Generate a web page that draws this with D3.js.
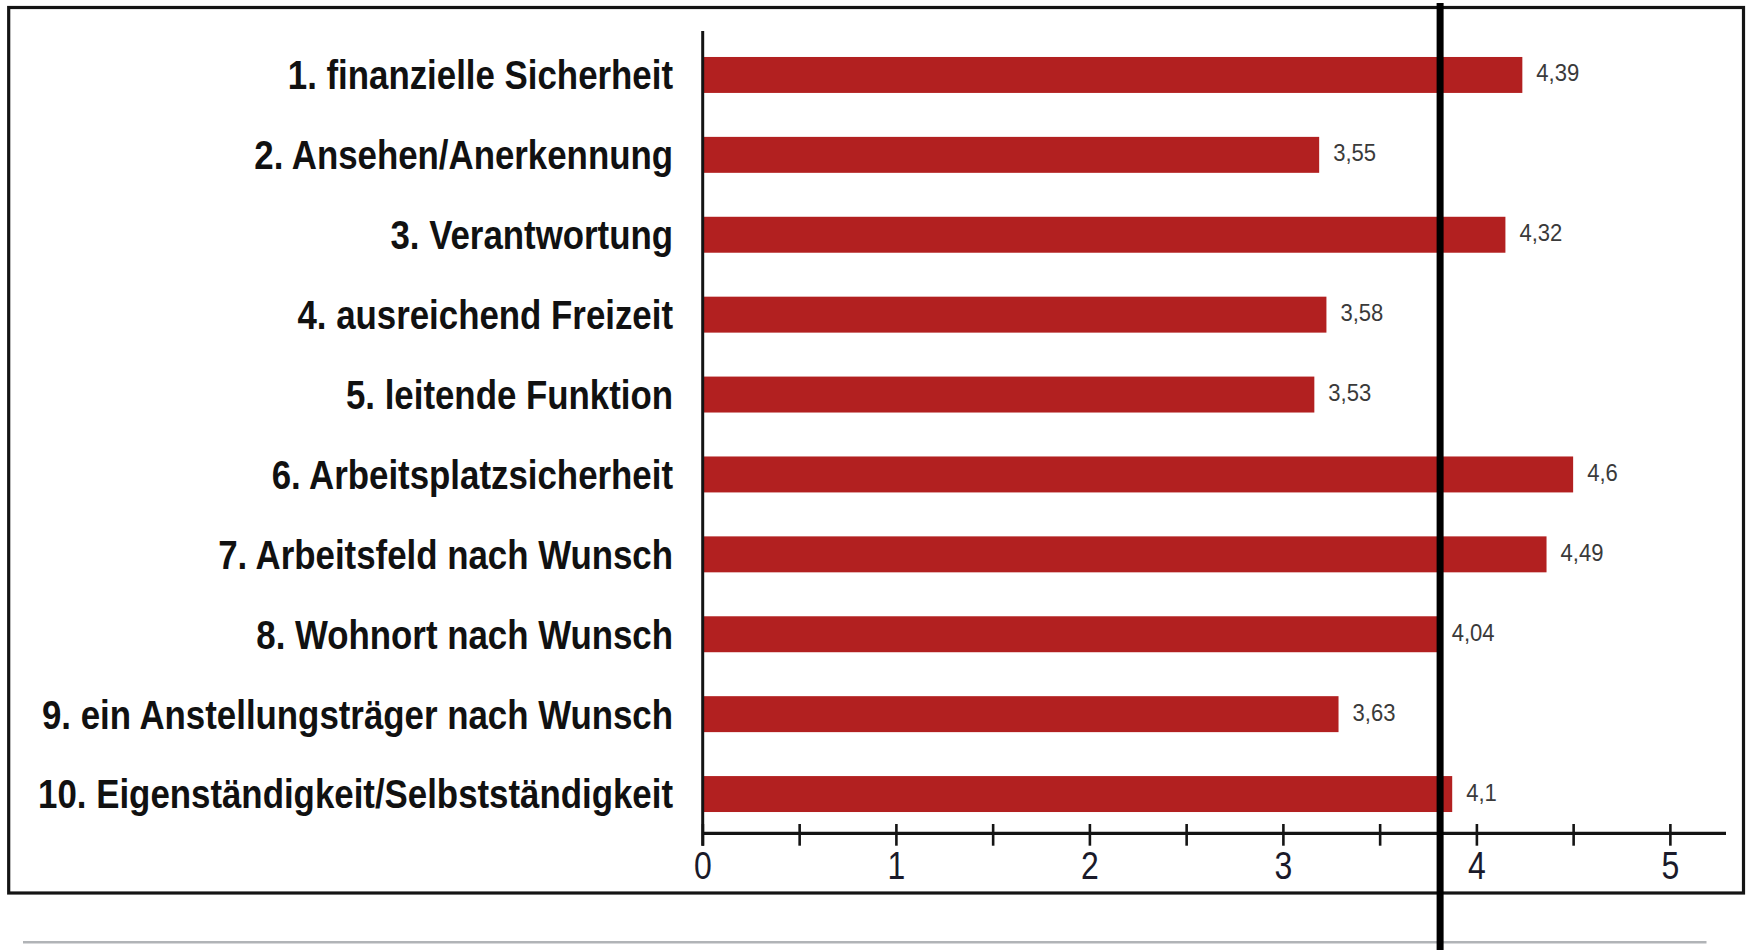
<!DOCTYPE html>
<html>
<head>
<meta charset="utf-8">
<script src="https://cdn.jsdelivr.net/npm/d3@7"></script>
<style>
  html, body { margin: 0; padding: 0; background: #fff; }
  svg { display: block; }
</style>
</head>
<body>
<svg id="chart" width="1746" height="950"></svg>
<script>
// ---- data ----
const categories = [
  "1. finanzielle Sicherheit",
  "2. Ansehen/Anerkennung",
  "3. Verantwortung",
  "4. ausreichend Freizeit",
  "5. leitende Funktion",
  "6. Arbeitsplatzsicherheit",
  "7. Arbeitsfeld nach Wunsch",
  "8. Wohnort nach Wunsch",
  "9. ein Anstellungsträger nach Wunsch",
  "10. Eigenständigkeit/Selbstständigkeit"
];
const values = [4.39, 3.55, 4.32, 3.58, 3.53, 4.6, 4.49, 4.04, 3.63, 4.1];
const valueLabels = ["4,39", "3,55", "4,32", "3,58", "3,53", "4,6", "4,49", "4,04", "3,63", "4,1"];
const axisTicks = [0, 0.5, 1, 1.5, 2, 2.5, 3, 3.5, 4, 4.5, 5];
const axisTickLabels = ["0", "", "1", "", "2", "", "3", "", "4", "", "5"];
const ratingScale = [1, 5];      // bars are drawn on the 1–5 rating scale
const referenceValue = [4.05];   // thick vertical reference line

// ---- layout ----
const svg = d3.select("#chart");
const axisY = 833.3;
const x = d3.scaleLinear().domain([0, 5.29]).range([702.4, 1726]);
const xBar = d3.scaleLinear().domain(ratingScale).range([x(0), x(5)]);
const y = d3.scaleBand().domain(categories).range([35, 834]).paddingInner(0.55).paddingOuter(0.275);

const FONT = "'Liberation Sans', Arial, Helvetica, sans-serif";
const SX = 0.85;

// frame
svg.append("rect")
  .attr("x", 8.7).attr("y", 7.5)
  .attr("width", 1743.5 - 8.7).attr("height", 893 - 7.5)
  .attr("fill", "none").attr("stroke", "#141414").attr("stroke-width", 3.2);

// bottom grey rule
svg.append("line")
  .attr("x1", 23).attr("x2", 1706.5).attr("y1", 942.2).attr("y2", 942.2)
  .attr("stroke", "#b1b4b7").attr("stroke-width", 2.5);

// bars
svg.append("g").selectAll("rect").data(values).join("rect")
  .attr("x", xBar(ratingScale[0]))
  .attr("y", (d, i) => y(categories[i]))
  .attr("width", d => xBar(d) - xBar(ratingScale[0]))
  .attr("height", y.bandwidth())
  .attr("fill", "#b22020");

// category labels
svg.append("g").selectAll("text").data(categories).join("text")
  .attr("transform", d => `translate(673,${y(d) + y.bandwidth() / 2}) scale(${SX},1)`)
  .attr("text-anchor", "end")
  .attr("dy", "0.35em")
  .attr("font-family", FONT)
  .attr("font-weight", "bold")
  .attr("font-size", 41)
  .attr("fill", "#111")
  .text(d => d);

// value labels
svg.append("g").selectAll("text").data(values).join("text")
  .attr("transform", (d, i) => `translate(${xBar(d) + 14},${y(categories[i]) + y.bandwidth() / 2}) scale(0.92,1)`)
  .attr("dy", "0.27em")
  .attr("font-family", FONT)
  .attr("font-size", 24)
  .attr("fill", "#3a3a3a")
  .text((d, i) => valueLabels[i]);

// x axis ticks + labels
const axis = d3.axisBottom(x)
  .tickValues(axisTicks)
  .tickSizeInner(21.7)
  .tickSizeOuter(0)
  .tickPadding(5.3)
  .tickFormat((d, i) => axisTickLabels[i]);
const gAxis = svg.append("g").attr("transform", "translate(0,824)").call(axis);
gAxis.select(".domain").remove();
gAxis.selectAll(".tick line").attr("stroke", "#141414").attr("stroke-width", 2.6);
gAxis.selectAll(".tick text")
  .attr("font-family", FONT)
  .attr("font-size", 39)
  .attr("fill", "#1a1a2a")
  .attr("transform", `scale(0.82,1)`);

// axis line (horizontal)
svg.append("line")
  .attr("x1", x(0)).attr("x2", x.range()[1])
  .attr("y1", axisY).attr("y2", axisY)
  .attr("stroke", "#141414").attr("stroke-width", 3.2);

// vertical axis line
svg.append("line")
  .attr("x1", x(0) + 0.3).attr("x2", x(0) + 0.3)
  .attr("y1", 31).attr("y2", 845.7)
  .attr("stroke", "#141414").attr("stroke-width", 3);

// reference line
svg.append("g").selectAll("line").data(referenceValue).join("line")
  .attr("x1", d => xBar(d)).attr("x2", d => xBar(d))
  .attr("y1", 3).attr("y2", 950)
  .attr("stroke", "#000").attr("stroke-width", 7);
</script>
</body>
</html>
